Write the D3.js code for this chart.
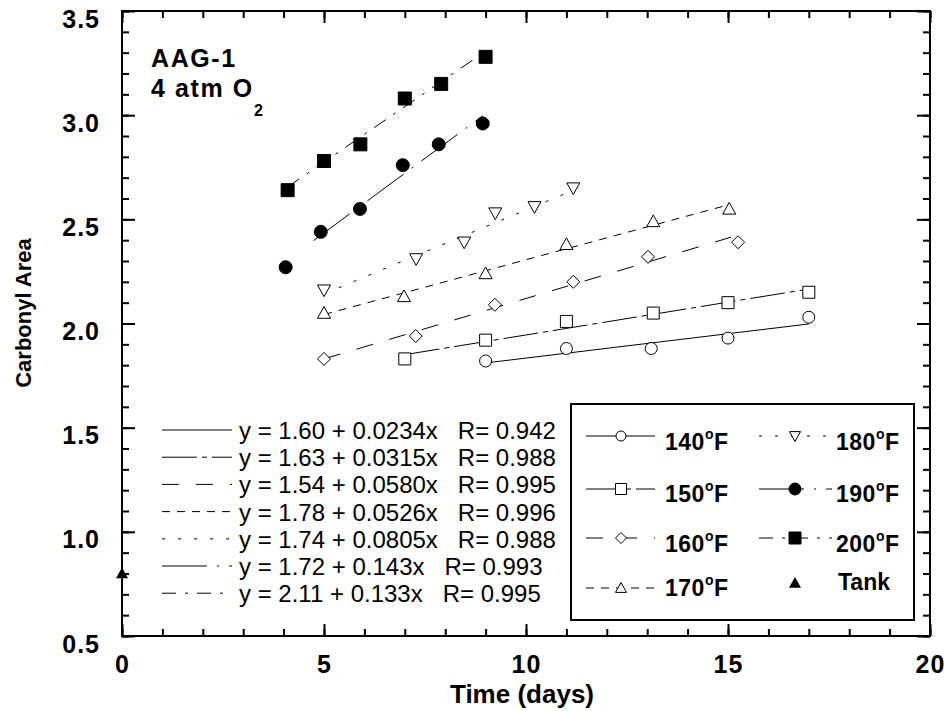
<!DOCTYPE html>
<html>
<head>
<meta charset="utf-8">
<script src="https://cdn.jsdelivr.net/npm/d3@7"></script>
<style>
  body { margin: 0; background: #fff; }
  svg { font-family: "Liberation Sans", Arial, Helvetica, sans-serif; }
</style>
</head>
<body>
<div id="chart"></div>
<script>
// series (temperature in F) and readings
const temps = ["140", "150", "160", "170", "180", "190", "200"];
const days140 = [9.0, 11.0, 13.1, 15.0, 17.0];
const area140 = [1.82, 1.88, 1.88, 1.93, 2.03];
const days150 = [7.0, 9.0, 11.0, 13.15, 15.0, 17.0];
const area150 = [1.83, 1.92, 2.01, 2.05, 2.10, 2.15];
const days160 = [5.0, 7.27, 9.23, 11.17, 13.02, 15.25];
const area160 = [1.83, 1.94, 2.09, 2.20, 2.32, 2.39];
const days170 = [5.0, 6.98, 9.0, 11.0, 13.15, 15.03];
const area170 = [2.05, 2.13, 2.24, 2.38, 2.49, 2.55];
const days180 = [5.0, 7.28, 8.47, 9.24, 10.21, 11.17];
const area180 = [2.16, 2.31, 2.39, 2.53, 2.56, 2.65];
const days190 = [4.05, 4.92, 5.89, 6.95, 7.84, 8.93];
const area190 = [2.27, 2.44, 2.55, 2.76, 2.86, 2.96];
const days200 = [4.1, 5.0, 5.9, 7.0, 7.9, 9.0];
const area200 = [2.64, 2.78, 2.86, 3.08, 3.15, 3.28];
const tankDays = [0];
const tankArea = [0.80];

// linear fits
const fitIntercept = [1.60, 1.63, 1.54, 1.78, 1.74, 1.72, 2.11];
const fitSlope = [0.0234, 0.0315, 0.0580, 0.0526, 0.0805, 0.143, 0.133];
const fitFrom = [9.0, 7.0, 5.0, 5.0, 5.0, 4.74, 4.1];
const fitTo = [17.0, 17.0, 15.2, 15.0, 11.17, 8.93, 9.0];
const fitLabels = [
  "y = 1.60 + 0.0234x   R= 0.942",
  "y = 1.63 + 0.0315x   R= 0.988",
  "y = 1.54 + 0.0580x   R= 0.995",
  "y = 1.78 + 0.0526x   R= 0.996",
  "y = 1.74 + 0.0805x   R= 0.988",
  "y = 1.72 + 0.143x   R= 0.993",
  "y = 2.11 + 0.133x   R= 0.995"
];

const xMajor = [0, 5, 10, 15, 20];
const yMajor = [0.5, 1.0, 1.5, 2.0, 2.5, 3.0, 3.5];

const allDays = [days140, days150, days160, days170, days180, days190, days200];
const allArea = [area140, area150, area160, area170, area180, area190, area200];
const markerType = ["circle", "square", "diamond", "triUp", "triDown", "circle", "square"];
const markerFilled = [false, false, false, false, false, true, true];
const dashes = ["none", "35,5,5,5", "17,17", "8,7", "3,13", "45,10,2,10", "14,9,3,9"];

const W = 951, H = 711;
const svg = d3.select("#chart").append("svg")
  .attr("width", W).attr("height", H);

const x = d3.scaleLinear().domain([0, 20]).range([122, 930]);
const y = d3.scaleLinear().domain([0.5, 3.5]).range([636, 11]);

// marker shapes
function markerPath(type, s) {
  const h = s / 2;
  if (type === "circle") {
    return `M${-h},0A${h},${h} 0 1,0 ${h},0A${h},${h} 0 1,0 ${-h},0Z`;
  }
  if (type === "square") return `M${-h},${-h}H${h}V${h}H${-h}Z`;
  if (type === "diamond") return `M0,${-h}L${h},0L0,${h}L${-h},0Z`;
  if (type === "triUp") return `M0,${-h}L${h},${h * 0.8}L${-h},${h * 0.8}Z`;
  if (type === "triDown") return `M0,${h}L${h},${-h * 0.8}L${-h},${-h * 0.8}Z`;
  return "";
}

// axes
const axisFont = 25;
function styleAxis(g) {
  g.select(".domain").remove();
  g.selectAll("line").attr("stroke", "#000").attr("stroke-width", 2);
}

svg.append("g").attr("transform", "translate(0,636)")
  .call(d3.axisBottom(x).tickValues(d3.range(0, 21)).tickSize(-7).tickFormat(""))
  .call(styleAxis);
svg.append("g").attr("transform", "translate(0,636)")
  .call(d3.axisBottom(x).tickValues(xMajor).tickSize(-12).tickPadding(19).tickFormat(d3.format("d")))
  .call(styleAxis)
  .selectAll("text")
  .attr("fill", "#000")
  .style("font-size", axisFont + "px")
  .style("font-weight", "bold")
  .style("letter-spacing", "1px");

svg.append("g").attr("transform", "translate(0,11)")
  .call(d3.axisTop(x).tickValues(d3.range(0, 21)).tickSize(-7).tickFormat(""))
  .call(styleAxis);
svg.append("g").attr("transform", "translate(0,11)")
  .call(d3.axisTop(x).tickValues(xMajor).tickSize(-12).tickFormat(""))
  .call(styleAxis);

svg.append("g").attr("transform", "translate(122,0)")
  .call(d3.axisLeft(y).tickValues(d3.range(5, 36).map(v => v / 10)).tickSize(-7).tickFormat(""))
  .call(styleAxis);
svg.append("g").attr("transform", "translate(122,0)")
  .call(d3.axisLeft(y).tickValues(yMajor).tickSize(-13).tickPadding(22).tickFormat(d3.format(".1f")))
  .call(styleAxis)
  .selectAll("text")
  .attr("fill", "#000")
  .attr("dy", "0.64em")
  .style("font-size", axisFont + "px")
  .style("font-weight", "bold")
  .style("letter-spacing", "1px");

svg.append("g").attr("transform", "translate(930,0)")
  .call(d3.axisRight(y).tickValues(d3.range(5, 36).map(v => v / 10)).tickSize(-7).tickFormat(""))
  .call(styleAxis);
svg.append("g").attr("transform", "translate(930,0)")
  .call(d3.axisRight(y).tickValues(yMajor).tickSize(-13).tickFormat(""))
  .call(styleAxis);

// frame
svg.append("rect")
  .attr("x", x(0)).attr("y", y(3.5))
  .attr("width", x(20) - x(0)).attr("height", y(0.5) - y(3.5))
  .attr("fill", "none").attr("stroke", "#000").attr("stroke-width", 2);

// axis titles
svg.append("text")
  .attr("x", 522).attr("y", 703)
  .attr("text-anchor", "middle")
  .style("font-size", "26px").style("font-weight", "bold")
  .text("Time (days)");

svg.append("text")
  .attr("transform", "translate(31,313) rotate(-90)")
  .attr("text-anchor", "middle")
  .style("font-size", "22px").style("font-weight", "bold")
  .text("Carbonyl Area");

// annotation
svg.append("text")
  .attr("x", 151).attr("y", 67)
  .style("font-size", "25px").style("font-weight", "bold")
  .style("letter-spacing", "1.6px")
  .text("AAG-1");
const ann = svg.append("text")
  .attr("x", 151).attr("y", 97)
  .style("font-size", "25px").style("font-weight", "bold")
  .style("letter-spacing", "1.6px");
ann.append("tspan").text("4 atm O");
ann.append("tspan").attr("dy", 19).style("font-size", "16px").text("2");

// fit lines
temps.forEach((t, i) => {
  const xs = [fitFrom[i], fitTo[i]];
  svg.append("path")
    .datum(xs)
    .attr("d", d3.line()
      .x(d => x(d))
      .y(d => y(fitIntercept[i] + fitSlope[i] * d)))
    .attr("fill", "none")
    .attr("stroke", "#000")
    .attr("stroke-width", 1)
    .attr("stroke-dasharray", dashes[i]);
});

// markers
const markerSize = [12, 12, 13, 13, 13, 13, 13];
temps.forEach((t, i) => {
  svg.append("g").selectAll("path")
    .data(allDays[i].map((d, j) => ({ d: d, a: allArea[i][j] })))
    .join("path")
    .attr("transform", p => `translate(${x(p.d)},${y(p.a)})`)
    .attr("d", markerPath(markerType[i], markerSize[i]))
    .attr("fill", markerFilled[i] ? "#000" : "#fff")
    .attr("stroke", "#000")
    .attr("stroke-width", 1);
});

svg.append("g").selectAll("path")
  .data(tankDays.map((d, j) => ({ d: d, a: tankArea[j] })))
  .join("path")
  .attr("transform", p => `translate(${x(p.d)},${y(p.a)})`)
  .attr("d", markerPath("triUp", 12))
  .attr("fill", "#000");

// equation legend
fitLabels.forEach((lab, i) => {
  const by = 439 + i * 27.2;
  svg.append("line")
    .attr("x1", 162).attr("x2", 232)
    .attr("y1", by - 9).attr("y2", by - 9)
    .attr("stroke", "#000").attr("stroke-width", 1)
    .attr("stroke-dasharray", dashes[i]);
  svg.append("text")
    .attr("x", 239).attr("y", by)
    .style("font-size", "24px")
    .style("white-space", "pre")
    .attr("xml:space", "preserve")
    .text(lab);
});

// series legend box
svg.append("rect")
  .attr("x", 571).attr("y", 404)
  .attr("width", 343).attr("height", 216)
  .attr("fill", "#fff").attr("stroke", "#000").attr("stroke-width", 2);

const legLineY = [436, 489, 538, 588];
const legTextY = [450, 502, 552, 596];
const legendMarkerSize = [10, 11, 11, 11, 11, 12, 12];
temps.forEach((t, i) => {
  const col = i < 4 ? 0 : 1;
  const row = i < 4 ? i : i - 4;
  const lx1 = col === 0 ? 586 : 759;
  const lx2 = col === 0 ? 655 : 832;
  const mx = col === 0 ? 621 : 795;
  const tx = col === 0 ? 665 : 836;
  const ly = legLineY[row];
  svg.append("line")
    .attr("x1", lx1).attr("x2", lx2)
    .attr("y1", ly).attr("y2", ly)
    .attr("stroke", "#000").attr("stroke-width", 1)
    .attr("stroke-dasharray", dashes[i]);
  svg.append("path")
    .attr("transform", `translate(${mx},${ly})`)
    .attr("d", markerPath(markerType[i], legendMarkerSize[i]))
    .attr("fill", markerFilled[i] ? "#000" : "#fff")
    .attr("stroke", "#000").attr("stroke-width", 1);
  const txt = svg.append("text")
    .attr("x", tx).attr("y", legTextY[row])
    .style("font-size", "23px").style("font-weight", "bold")
    .style("letter-spacing", "0.5px");
  txt.append("tspan").text(t);
  txt.append("tspan").attr("dy", -11).style("font-size", "14px").text("o");
  txt.append("tspan").attr("dy", 11).text("F");
});

// tank entry
svg.append("path")
  .attr("transform", "translate(795,583)")
  .attr("d", markerPath("triUp", 12))
  .attr("fill", "#000");
svg.append("text")
  .attr("x", 838).attr("y", 590)
  .style("font-size", "23px").style("font-weight", "bold")
  .text("Tank");
</script>
</body>
</html>
